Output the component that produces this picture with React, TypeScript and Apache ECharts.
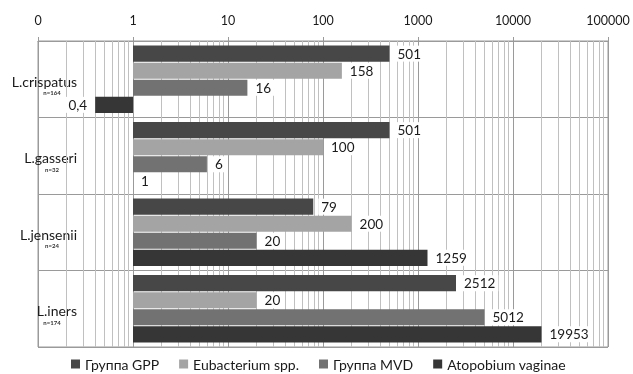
import React, { useEffect, useRef } from "react";
import * as echarts from "echarts";

const categories = ["L.crispatus", "L.gasseri", "L.jensenii", "L.iners"];
const sampleSizes = ["n=164", "n=32", "n=24", "n=174"];
const seriesNames = ["Группа GPP", "Eubacterium spp.", "Группа MVD", "Atopobium vaginae"];
const gppValues = [501, 501, 79, 2512];
const eubacteriumValues = [158, 100, 200, 20];
const mvdValues = [16, 6, 20, 5012];
const atopobiumValues = [0.4, 1, 1259, 19953];
const seriesColors = ["#474747", "#a4a4a4", "#727272", "#363636"];
const minorGridValues = [
  0.2, 0.3, 0.4, 0.5, 0.6, 0.7, 0.8, 0.9,
  2, 3, 4, 5, 6, 7, 8, 9,
  20, 30, 40, 50, 60, 70, 80, 90,
  200, 300, 400, 500, 600, 700, 800, 900,
  2000, 3000, 4000, 5000, 6000, 7000, 8000, 9000,
  20000, 30000, 40000, 50000, 60000, 70000, 80000, 90000,
];

const FONT = "Lato";

export default function App() {
  const ref = useRef<HTMLDivElement>(null);
  useEffect(() => {
    if (!ref.current) return;
    const chart = echarts.init(ref.current, null, { renderer: "svg" });
    const allValues = [gppValues, eubacteriumValues, mvdValues, atopobiumValues];
    const series: any[] = allValues.map((vals, i) => ({
      type: "bar",
      name: seriesNames[i],
      yAxisIndex: 0,
      barGap: "6%",
      barCategoryGap: "12%",
      itemStyle: { color: seriesColors[i] },
      z: 3,
      label: {
        show: true,
        position: "right",
        distance: 5,
        fontFamily: FONT,
        fontSize: 13.5,
        color: "#1a1a1a",
        backgroundColor: "#ffffff",
        padding: [1, 3, 1, 3],
        formatter: (p: any) => String(p.value).replace(".", ","),
      },
      data: vals.map((v) => (v < 1 ? { value: v, label: { position: "left" } } : v)),
    }));
    series[0].markLine = {
      silent: true,
      symbol: "none",
      z: 1,
      label: { show: false },
      lineStyle: { color: "#c0c0c0", width: 1, type: "solid" },
      data: minorGridValues.map((v) => ({ xAxis: v })),
    };
    chart.setOption({
      animation: false,
      textStyle: { fontFamily: FONT },
      grid: {
        left: 38,
        right: 25,
        top: 41,
        bottom: 27,
        show: true,
        borderColor: "#9a9a9a",
        borderWidth: 1,
      },
      legend: {
        top: 357,
        left: 71,
        icon: "rect",
        itemWidth: 9,
        itemHeight: 9,
        itemGap: 20,
        padding: 0,
        data: seriesNames,
        textStyle: { fontFamily: FONT, fontSize: 14, color: "#1a1a1a" },
      },
      xAxis: {
        type: "log",
        logBase: 10,
        min: 0.1,
        max: 100000,
        position: "top",
        axisLine: { show: true, lineStyle: { color: "#9a9a9a" } },
        axisTick: { show: true, length: 4, lineStyle: { color: "#9a9a9a" } },
        splitLine: { show: true, lineStyle: { color: "#9a9a9a", width: 1 } },
        axisLabel: {
          fontFamily: FONT,
          fontSize: 12.5,
          color: "#1a1a1a",
          margin: 14,
          formatter: (v: number) => (v < 1 ? "0" : String(Math.round(v))),
        },
      },
      yAxis: [
        {
          type: "category",
          inverse: true,
          data: categories,
          axisLine: { show: true, lineStyle: { color: "#9a9a9a" } },
          axisTick: { show: false },
          splitLine: { show: true, lineStyle: { color: "#9a9a9a" } },
          axisLabel: {
            inside: true,
            margin: 39,
            align: "right",
            formatter: (v: string) => `{a|${v}}`,
            rich: {
              a: {
                fontFamily: FONT,
                fontSize: 14,
                color: "#1a1a1a",
                padding: [4, 0, 0, 0],
              },
            },
          },
        },
        {
          type: "category",
          inverse: true,
          data: sampleSizes,
          position: "left",
          axisLine: { show: false },
          axisTick: { show: false },
          splitLine: { show: false },
          axisLabel: {
            inside: true,
            margin: 14,
            align: "center",
            verticalAlign: "top",
            lineHeight: 27,
            fontFamily: FONT,
            fontSize: 6,
            fontWeight: "bold",
            color: "#333",
          },
        },
      ],
      series,
    });
    return () => chart.dispose();
  }, []);
  return (
    <div
      ref={ref}
      style={{ position: "fixed", left: 0, top: 0, width: 633, height: 374 }}
    />
  );
}
